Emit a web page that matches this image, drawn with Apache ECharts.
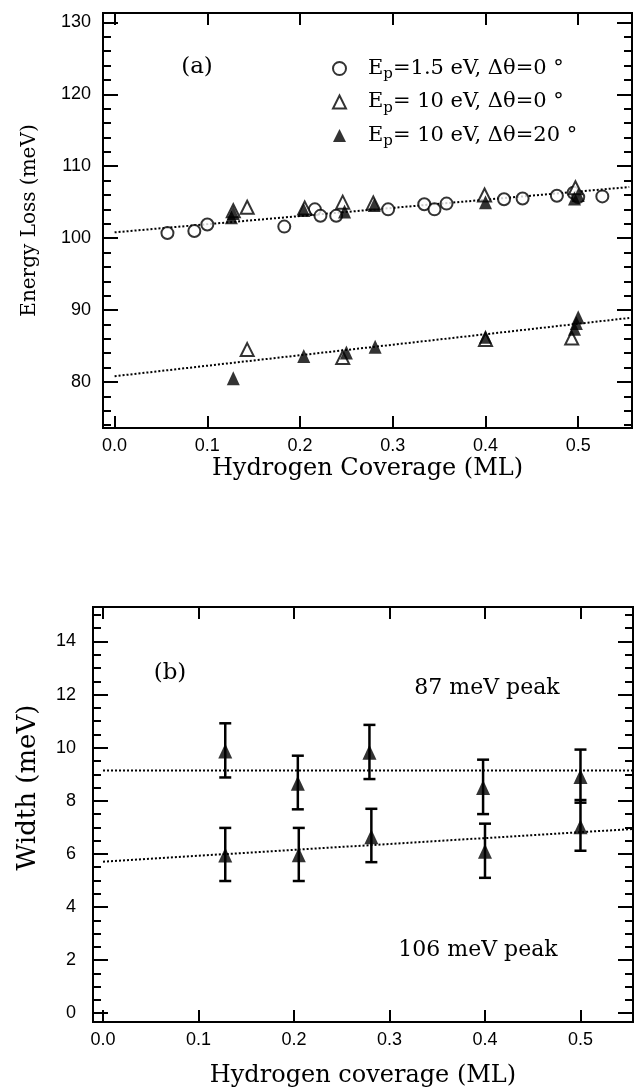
<!DOCTYPE html>
<html>
<head>
<meta charset="utf-8">
<script src="https://cdn.jsdelivr.net/npm/echarts@6/dist/echarts.min.js"></script>
<style>
html, body { margin: 0; padding: 0; background: #fff; }
#chart { width: 637px; height: 1089px; }
</style>
</head>
<body>
<div id="chart"></div>
<script>
// ---- data ----
var seriesNames = ['Ep=1.5 eV, Δθ=0 °', 'Ep= 10 eV, Δθ=0 °', 'Ep= 10 eV, Δθ=20 °'];

// (a) energy loss vs coverage
var circles15 = [
    [0.057, 100.7], [0.086, 101.0], [0.100, 101.9], [0.183, 101.6], [0.216, 104.0],
    [0.222, 103.1], [0.239, 103.1], [0.295, 104.0], [0.334, 104.7], [0.345, 104.0],
    [0.358, 104.8], [0.420, 105.4], [0.440, 105.5], [0.477, 105.9], [0.495, 106.3],
    [0.500, 105.7], [0.526, 105.8]
];
var openTri10 = [
    [0.128, 103.8], [0.143, 104.3], [0.205, 104.2], [0.246, 105.0], [0.279, 104.9],
    [0.399, 106.0], [0.497, 107.0],
    [0.143, 84.5], [0.246, 83.4], [0.400, 85.9], [0.493, 86.1]
];
var fillTri20 = [
    [0.126, 102.9], [0.128, 103.5], [0.204, 103.9], [0.248, 103.7], [0.280, 104.6],
    [0.400, 105.0], [0.496, 105.5], [0.500, 106.0],
    [0.128, 80.5], [0.204, 83.6], [0.250, 84.1], [0.281, 84.9], [0.400, 86.3],
    [0.496, 87.4], [0.498, 88.2], [0.500, 89.0]
];
var fitHigh = [[0.0, 100.8], [0.555, 107.1]];
var fitLow = [[0.0, 80.8], [0.555, 88.9]];

// (b) width vs coverage, [x, y] and error bars [x, low, high]
var peak87 = [[0.128, 9.88], [0.204, 8.66], [0.279, 9.83], [0.398, 8.50], [0.500, 8.92]];
var peak87Err = [[0.128, 8.88, 10.92], [0.204, 7.68, 9.70], [0.279, 8.82, 10.86], [0.398, 7.50, 9.55], [0.500, 7.93, 9.93]];
var peak106 = [[0.128, 5.96], [0.205, 5.97], [0.281, 6.65], [0.400, 6.10], [0.500, 7.02]];
var peak106Err = [[0.128, 4.98, 6.98], [0.205, 4.98, 6.98], [0.281, 5.69, 7.70], [0.400, 5.10, 7.14], [0.500, 6.12, 8.03]];
var fit87 = [[0.0, 9.14], [0.555, 9.14]];
var fit106 = [[0.0, 5.71], [0.555, 6.94]];

// ticks
var xTicks = [0, 0.1, 0.2, 0.3, 0.4, 0.5];
var aMajor = [80, 90, 100, 110, 120, 130];
var aMinor = [74, 76, 78, 82, 84, 86, 88, 92, 94, 96, 98, 102, 104, 106, 108, 112, 114, 116, 118, 122, 124, 126, 128];
var bMajor = [0, 2, 4, 6, 8, 10, 12, 14];
var bMinor = [0.5, 1, 1.5, 2.5, 3, 3.5, 4.5, 5, 5.5, 6.5, 7, 7.5, 8.5, 9, 9.5, 10.5, 11, 11.5, 12.5, 13, 13.5, 14.5, 15];

var SERIF = 'DejaVu Serif';
var SANS = 'Liberation Sans';
var BLACK = '#000';

// ---- axis helpers ----
function xAxisOf(grid, pos, min, max, name, gap) {
    var main = pos === 'bottom';
    return {
        type: 'value', gridIndex: grid, position: pos, min: min, max: max,
        name: main ? name : '', nameLocation: 'middle', nameGap: gap,
        nameTextStyle: { fontFamily: SERIF, fontSize: 24, color: BLACK },
        axisLine: { show: false, onZero: false },
        splitLine: { show: false },
        axisTick: { show: true, inside: true, length: 12, customValues: xTicks, lineStyle: { color: BLACK, width: 2 } },
        axisLabel: {
            show: main, customValues: xTicks, margin: 9,
            fontFamily: SANS, fontSize: 18, color: BLACK,
            formatter: function (v) { return v.toFixed(1); }
        }
    };
}

function yAxisOf(grid, pos, min, max, ticks, len, label) {
    label = label || {};
    return {
        type: 'value', gridIndex: grid, position: pos, min: min, max: max,
        name: label.name || '', nameLocation: 'middle', nameGap: label.gap,
        nameTextStyle: { fontFamily: SERIF, fontSize: label.size, color: BLACK, padding: label.pad || 0 },
        axisLine: { show: false, onZero: false },
        splitLine: { show: false },
        axisTick: { show: true, inside: true, length: len, customValues: ticks, lineStyle: { color: BLACK, width: 2 } },
        axisLabel: { show: !!label.name, customValues: ticks, margin: label.margin || 8, fontFamily: SANS, fontSize: 18, color: BLACK }
    };
}

function errorBars(params, api) {
    var x = api.value(0);
    var lo = api.coord([x, api.value(1)]);
    var hi = api.coord([x, api.value(2)]);
    var hw = 6;
    var st = { stroke: BLACK, lineWidth: 2.5 };
    return {
        type: 'group',
        children: [
            { type: 'line', shape: { x1: hi[0], y1: hi[1], x2: lo[0], y2: lo[1] }, style: st },
            { type: 'line', shape: { x1: hi[0] - hw, y1: hi[1], x2: hi[0] + hw, y2: hi[1] }, style: st },
            { type: 'line', shape: { x1: lo[0] - hw, y1: lo[1], x2: lo[0] + hw, y2: lo[1] }, style: st }
        ]
    };
}

function fitLine(data, xi, yi) {
    return {
        type: 'line', data: data, xAxisIndex: xi, yAxisIndex: yi,
        showSymbol: false, silent: true, z: 1,
        lineStyle: { color: BLACK, width: 2, type: [2, 2] }
    };
}

var legendRich = {};
legendRich[seriesNames[0]] = '{e|E}{s|p}{t|=1.5 eV, Δθ=0 °}';
legendRich[seriesNames[1]] = '{e|E}{s|p}{t|= 10 eV, Δθ=0 °}';
legendRich[seriesNames[2]] = '{e|E}{s|p}{t|= 10 eV, Δθ=20 °}';

var chart = echarts.init(document.getElementById('chart'), null, { renderer: 'canvas' });

var option = {
    backgroundColor: '#fff',
    animation: false,
    grid: [
        { left: 103, top: 13, right: 5, height: 415, show: true, borderColor: BLACK, borderWidth: 2 },
        { left: 93, top: 607, right: 4, height: 416, show: true, borderColor: BLACK, borderWidth: 2 }
    ],
    xAxis: [
        xAxisOf(0, 'bottom', -0.0125, 0.558, 'Hydrogen Coverage (ML)', 29),
        xAxisOf(0, 'top', -0.0125, 0.558),
        xAxisOf(1, 'bottom', -0.0105, 0.555, 'Hydrogen coverage (ML)', 42),
        xAxisOf(1, 'top', -0.0105, 0.555)
    ],
    yAxis: [
        yAxisOf(0, 'left', 73.6, 131.3, aMajor, 15, { name: 'Energy Loss (meV)', gap: 63, size: 20, margin: 12 }),
        yAxisOf(0, 'left', 73.6, 131.3, aMinor, 8),
        yAxisOf(0, 'right', 73.6, 131.3, aMajor, 15),
        yAxisOf(0, 'right', 73.6, 131.3, aMinor, 8),
        yAxisOf(1, 'left', -0.33, 15.3, bMajor, 15, { name: 'Width (meV)', gap: 52, size: 26, margin: 17, pad: [0, 0, 0, 54] }),
        yAxisOf(1, 'left', -0.33, 15.3, bMinor, 8),
        yAxisOf(1, 'right', -0.33, 15.3, bMajor, 15),
        yAxisOf(1, 'right', -0.33, 15.3, bMinor, 8)
    ],
    legend: {
        left: 327, top: 50, orient: 'vertical',
        itemWidth: 13, itemHeight: 13, itemGap: 6.5,
        selectedMode: false,
        data: seriesNames,
        formatter: function (name) { return legendRich[name]; },
        textStyle: {
            color: BLACK, fontFamily: SERIF, fontSize: 21,
            rich: {
                e: { fontFamily: SERIF, fontSize: 21, lineHeight: 26, color: BLACK, padding: [0, 0, 0, 17] },
                s: { fontFamily: SERIF, fontSize: 15, lineHeight: 14, color: BLACK, padding: [12, 0, 0, 0] },
                t: { fontFamily: SERIF, fontSize: 21, lineHeight: 26, color: BLACK }
            }
        }
    },
    graphic: [
        { type: 'text', x: 197, y: 67, style: { text: '(a)', font: '23px "DejaVu Serif"', fill: BLACK, align: 'center', verticalAlign: 'middle' } },
        { type: 'text', x: 170, y: 673, style: { text: '(b)', font: '23px "DejaVu Serif"', fill: BLACK, align: 'center', verticalAlign: 'middle' } },
        { type: 'text', x: 487, y: 688, style: { text: '87 meV peak', font: '22px "DejaVu Serif"', fill: BLACK, align: 'center', verticalAlign: 'middle' } },
        { type: 'text', x: 478, y: 950, style: { text: '106 meV peak', font: '22px "DejaVu Serif"', fill: BLACK, align: 'center', verticalAlign: 'middle' } }
    ],
    series: [
        fitLine(fitHigh, 0, 0),
        fitLine(fitLow, 0, 0),
        {
            name: seriesNames[0], type: 'scatter', data: circles15, xAxisIndex: 0, yAxisIndex: 0,
            symbol: 'emptyCircle', symbolSize: 12, z: 2,
            itemStyle: { color: BLACK, borderColor: BLACK, borderWidth: 1.5 }
        },
        {
            name: seriesNames[1], type: 'scatter', data: openTri10, xAxisIndex: 0, yAxisIndex: 0,
            symbol: 'emptyTriangle', symbolSize: 13, z: 3,
            itemStyle: { color: BLACK, borderColor: BLACK, borderWidth: 1.5 }
        },
        {
            name: seriesNames[2], type: 'scatter', data: fillTri20, xAxisIndex: 0, yAxisIndex: 0,
            symbol: 'triangle', symbolSize: [13, 14], z: 4,
            itemStyle: { color: BLACK }
        },
        fitLine(fit87, 2, 4),
        fitLine(fit106, 2, 4),
        {
            type: 'custom', renderItem: errorBars, data: peak87Err, xAxisIndex: 2, yAxisIndex: 4,
            encode: { x: 0, y: [1, 2] }, z: 2, silent: true
        },
        {
            type: 'custom', renderItem: errorBars, data: peak106Err, xAxisIndex: 2, yAxisIndex: 4,
            encode: { x: 0, y: [1, 2] }, z: 2, silent: true
        },
        {
            name: '87 meV peak', type: 'scatter', data: peak87, xAxisIndex: 2, yAxisIndex: 4,
            symbol: 'triangle', symbolSize: [14, 15], z: 3, itemStyle: { color: BLACK }
        },
        {
            name: '106 meV peak', type: 'scatter', data: peak106, xAxisIndex: 2, yAxisIndex: 4,
            symbol: 'triangle', symbolSize: [14, 15], z: 3, itemStyle: { color: BLACK }
        }
    ]
};

chart.setOption(option);
</script>
</body>
</html>
